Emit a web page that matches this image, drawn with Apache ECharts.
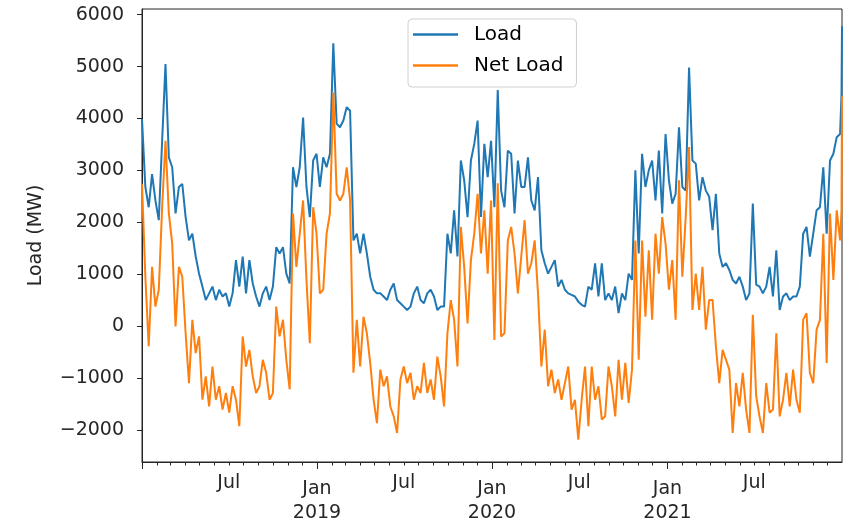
<!DOCTYPE html>
<html><head><meta charset="utf-8">
<script src="https://cdn.jsdelivr.net/npm/echarts@6/dist/echarts.min.js"></script>
<style>html,body{margin:0;padding:0;background:#fff}#c{width:849px;height:519px}</style>
</head><body><div id="c"></div>
<script>
// ---- data ----
const startDate = '2018-01-01';   // first weekly sample
const stepDays = 7;               // weekly samples
const extraDates = ['2021-12-30', '2021-12-31'];

const loadValues = [
  3990, 2680, 2290, 2930, 2420, 2040, 3570, 5050, 3250, 3060,
  2170, 2680, 2740, 2100, 1650, 1780, 1340, 1010, 760, 500,
  630, 760, 500, 700, 570, 630, 375, 630, 1270, 760,
  1340, 630, 1270, 820, 570, 375, 630, 760, 500, 760,
  1520, 1400, 1520, 1010, 820, 3060, 2680, 3060, 4020, 2680,
  2100, 3190, 3320, 2680, 3250, 3060, 3320, 5450, 3900, 3830,
  3960, 4220, 4150, 1650, 1780, 1400, 1780, 1400, 950, 700,
  630, 630, 570, 500, 700, 820, 500, 440, 375, 310,
  375, 630, 760, 500, 440, 630, 700, 570, 310, 375,
  375, 1780, 1400, 2230, 1340, 3190, 2810, 2100, 3190, 3510,
  3960, 2100, 3510, 2870, 3570, 2290, 4550, 2610, 2290, 3380,
  3320, 2170, 3190, 2680, 2680, 3250, 2420, 2230, 2870, 1460,
  1210, 1010, 1140, 1270, 760, 890, 700, 630, 600, 570,
  470, 410, 375, 760, 700, 1210, 570, 1210, 500, 630,
  500, 760, 250, 630, 500, 1010, 890, 3000, 1400, 3320,
  2680, 3000, 3190, 2420, 3380, 2170, 3700, 2810, 2360, 2550,
  3830, 2680, 2610, 4980, 3190, 3130, 2420, 2870, 2610, 2490,
  1850, 2550, 1400, 1140, 1210, 1080, 890, 820, 950, 760,
  500, 630, 2360, 800, 760, 630, 760, 1140, 570, 1460,
  310, 570, 630, 500, 570, 570, 760, 1780, 1910, 1340,
  1780, 2230, 2290, 3060, 1780, 3190, 3320, 3640, 3700,
  4470, 5780
];

const netLoadValues = [
  2740, 950, -390, 1140, 375, 700, 2290, 3570, 2170, 1590,
  -10, 1140, 950, -140, -1100, 120, -520, -200, -1420, -970,
  -1550, -780, -1420, -1160, -1610, -1290, -1670, -1160, -1420, -1930,
  -200, -780, -460, -970, -1290, -1160, -650, -900, -1420, -1290,
  375, -200, 120, -650, -1220, 2170, 1140, 1780, 2420, 890,
  -330, 2290, 1780, 630, 700, 1780, 2170, 4500, 2550, 2420,
  2550, 3060, 2420, -900, 120, -780, 180, -140, -710, -1420,
  -1870, -840, -1160, -970, -1550, -1740, -2060, -1030, -780, -1100,
  -900, -1420, -1160, -1290, -710, -1290, -1030, -1420, -590, -970,
  -1550, -140, 500, 120, -780, 1910, 1140, 50, 1270, 1780,
  2550, 1400, 2230, 1010, 2420, -270, 2750, -200, -140, 1650,
  1910, 1400, 630, 1340, 2040, 1010, 1210, 1650, 630, -780,
  -70, -1160, -840, -1290, -1030, -1420, -1100, -780, -1610, -1420,
  -2190, -1420, -780, -1930, -780, -1420, -1160, -1800, -1740, -780,
  -1160, -1740, -650, -1420, -710, -1480, -840, 1650, -650, 1650,
  180, 1460, 120, 1780, 1010, 2100, 1590, 700, 1270, 120,
  2810, 950, 2100, 3450, 310, 1010, 310, 1140, -70, 500,
  500, -390, -1100, -460, -650, -840, -2060, -1100, -1550, -900,
  -1610, -2060, 215, -1350, -1740, -2060, -1100, -1670, -1610, -140,
  -1740, -1420, -900, -1550, -840, -1420, -1670, 120, 250, -900,
  -1100, -70, 120, 1780, -710, 2170, 890, 2230, 1650,
  2230, 4430
];

const yTicks = [-2000, -1000, 0, 1000, 2000, 3000, 4000, 5000, 6000];
const janTicks = ['2018-01-01', '2019-01-01', '2020-01-01', '2021-01-01'];
const xLabelDates = ['2018-07-01', '2019-01-01', '2019-07-01', '2020-01-01',
                     '2020-07-01', '2021-01-01', '2021-07-01'];
const xStart = '2018-01-01';
const xEnd = '2021-12-31';

// ---- build ----
function ts(s) { const p = s.split('-').map(Number); return Date.UTC(p[0], p[1] - 1, p[2]); }
const DAY = 86400000;
const dates = [];
for (let i = 0; i < loadValues.length - extraDates.length; i++) dates.push(ts(startDate) + i * stepDays * DAY);
extraDates.forEach(d => dates.push(ts(d)));
const monthTicks = [];
for (let y = 2018; y <= 2021; y++) for (let m = 0; m < 12; m++) monthTicks.push(Date.UTC(y, m, 1));
const MON = ['Jan', 'Feb', 'Mar', 'Apr', 'May', 'Jun', 'Jul', 'Aug', 'Sep', 'Oct', 'Nov', 'Dec'];

const FONT = 'DejaVu Sans';
const TXT = '#262626';
const FS = 19;
const chart = echarts.init(document.getElementById('c'), null, {renderer: 'canvas'});
chart.setOption({
  animation: false,
  backgroundColor: '#fff',
  grid: {
    left: 142, right: 7, top: 9, bottom: 57,
    show: true, borderColor: '#262626', borderWidth: 1, backgroundColor: 'transparent',
    containLabel: false, outerBoundsMode: 'none'
  },
  legend: {
    data: ['Load', 'Net Load'],
    orient: 'vertical', left: 408, top: 19,
    icon: 'rect', itemWidth: 45, itemHeight: 2.5, itemGap: 8,
    padding: [4, 13, 10, 5],
    backgroundColor: 'rgba(255,255,255,0.85)', borderColor: '#d0d0d0', borderWidth: 1, borderRadius: 4,
    textStyle: {fontFamily: FONT, fontSize: 20, color: '#000', lineHeight: 23, padding: [0, 0, 0, 11]}
  },
  xAxis: [
    {
      type: 'value', min: ts(xStart), max: ts(xEnd), position: 'bottom',
      splitLine: {show: false},
      axisLine: {show: true, onZero: false, lineStyle: {color: '#262626', width: 1}},
      axisTick: {show: true, length: 3.5, customValues: monthTicks, lineStyle: {color: '#262626'}},
      axisLabel: {
        customValues: xLabelDates.map(ts), hideOverlap: false, margin: 15,
        formatter: v => {
          const d = new Date(v);
          const m = d.getUTCMonth();
          return m === 0 ? '{a|' + MON[m] + '}\n{a|' + d.getUTCFullYear() + '}' : '{u|' + MON[m] + '}';
        },
        rich: {
          a: {fontFamily: FONT, fontSize: FS, color: TXT, lineHeight: 24},
          u: {fontFamily: FONT, fontSize: FS, color: TXT, lineHeight: 12}
        },
        fontFamily: FONT, fontSize: FS, color: TXT
      }
    },
    {
      type: 'value', min: ts(xStart), max: ts(xEnd), position: 'bottom', offset: 0,
      splitLine: {show: false},
      axisLine: {show: false, onZero: false},
      axisTick: {show: true, length: 7, customValues: janTicks.map(ts), lineStyle: {color: '#262626'}},
      axisLabel: {show: false}
    }
  ],
  yAxis: {
    type: 'value', min: -2620, max: 6110,
    splitLine: {show: false},
    axisLine: {show: true, onZero: false, lineStyle: {color: '#262626', width: 1}},
    axisTick: {show: true, length: 5, customValues: yTicks, lineStyle: {color: '#262626'}},
    axisLabel: {
      customValues: yTicks,
      formatter: v => (v < 0 ? '\u2212' + Math.abs(v) : String(v)),
      fontFamily: FONT, fontSize: FS, color: TXT, margin: 18
    },
    name: 'Load (MW)', nameLocation: 'middle', nameGap: 96, nameRotate: 90,
    nameTextStyle: {fontFamily: FONT, fontSize: FS, color: TXT}
  },
  series: [
    {
      name: 'Load', type: 'line', xAxisIndex: 0, showSymbol: false, symbol: 'none',
      color: '#1f77b4', lineStyle: {color: '#1f77b4', width: 2}, z: 2,
      data: dates.map((d, i) => [d, loadValues[i]])
    },
    {
      name: 'Net Load', type: 'line', xAxisIndex: 0, showSymbol: false, symbol: 'none',
      color: '#ff7f0e', lineStyle: {color: '#ff7f0e', width: 2}, z: 3,
      data: dates.map((d, i) => [d, netLoadValues[i]])
    }
  ]
});
</script></body></html>
